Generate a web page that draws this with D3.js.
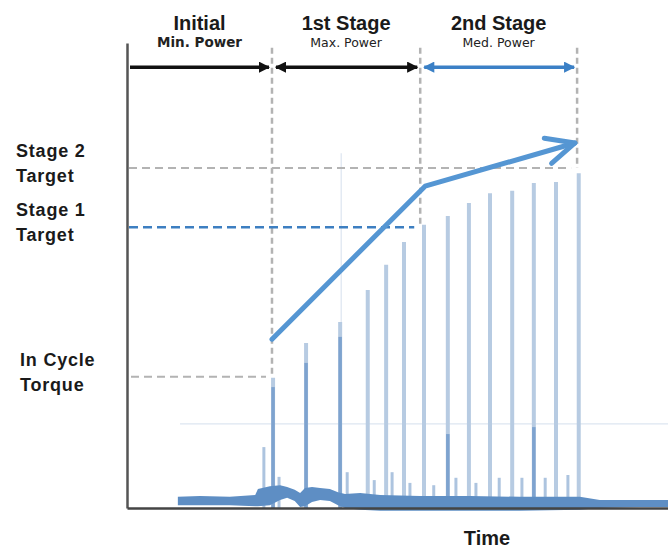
<!DOCTYPE html>
<html>
<head>
<meta charset="utf-8">
<script src="https://cdn.jsdelivr.net/npm/d3@7"></script>
<style>
  body { margin: 0; background: #fff; }
  svg { display: block; }
  .lbl { font-family: "Liberation Sans", Arial, sans-serif; font-weight: bold; fill: #1a1a1a; }
  .sub { font-family: "DejaVu Sans", sans-serif; fill: #222; }
</style>
</head>
<body>
<div id="chart"></div>
<script>
/* ---------------------------------- */
/* datos          */
/* ---------------------------------- */
const stageNames = ["Initial", "1st Stage", "2nd Stage"];
const stagePower = ["Min. Power", "Max. Power", "Med. Power"];
const stageBounds = [0, 26.8, 54.2, 83.2];           // tiempo (0-100)

const targetNames = [["Stage 2", "Target"], ["Stage 1", "Target"], ["In Cycle", "Torque"]];
const targetLevels = [73.1, 60.4, 28.2];             // par (0-100)

// picos altos de par en cada ciclo
const spikeTime = [27.0, 33.1, 39.4, 44.5, 47.9, 51.2, 54.9, 59.3, 63.2, 67.1, 71.2, 75.2, 79.3, 83.5];
const spikeTop  = [28.0, 35.5, 40.0, 46.9, 52.3, 57.2, 60.9, 62.8, 65.6, 67.7, 68.2, 69.9, 70.1, 72.0];
const spikeDark = [26.0, 31.2, 36.8, 0, 0, 0, 0, 15.9, 0, 0, 0, 17.4, 0, 0];

// picos pequeños
const smallTime = [25.3, 28.1, 40.7, 45.7, 49.0, 52.3, 56.7, 60.8, 64.5, 68.8, 73.0, 77.3, 81.5];
const smallTop  = [13.1, 6.7, 7.7, 6.0, 7.7, 5.4, 4.9, 6.5, 5.4, 6.5, 6.5, 6.5, 7.1];

// línea fantasma y referencia tenue
const ghostTime = [39.6];
const ghostTop = [76.3];
const faintLevel = 18.1;
const faintFrom = 9.8;

// banda de ruido de fondo
const noiseTime = [9.4, 13.5, 19.0, 23.7, 24.2, 26.4, 28.3, 29.6, 31.0, 32.0, 32.9, 34.2, 35.7, 37.5, 39.0, 40.3, 43.1, 46.8, 54.2, 63.4, 72.6, 83.7, 87.4, 94.8, 100];
const noiseHigh = [2.4, 2.6, 2.4, 2.8, 4.1, 4.7, 4.9, 4.5, 3.9, 3.2, 4.3, 4.5, 4.3, 4.1, 3.4, 3.0, 3.2, 2.8, 2.6, 2.6, 2.4, 2.4, 1.7, 1.7, 1.7];
const noiseLow  = [0.6, 0.6, 0.6, 0.4, 0.4, 0.6, 1.7, 2.2, 1.5, 0.2, 0.4, 1.3, 1.7, 1.5, 0.6, 0, -0.4, -0.6, -0.6, -0.6, -0.6, -0.4, 0, 0.2, 0.2];

// tendencia del objetivo
const trendTime = [26.8, 55.1, 82.8];
const trendTorque = [36.3, 69.2, 78.5];

const arrowLevel = 94.8;

/* ---------------------------------- */
const anchoTotal = 668;
const altoTotal = 548;

const svg = d3.select("#chart")
  .append("svg")
  .attr("width", anchoTotal)
  .attr("height", altoTotal);

const x = d3.scaleLinear().domain([0, 100]).range([127, 668]);
const y = d3.scaleLinear().domain([0, 100]).range([508, 43]);

const defs = svg.append("defs");
const addMarker = (id, color) => {
  defs.append("marker")
    .attr("id", id)
    .attr("viewBox", "0 0 10 10")
    .attr("refX", 9)
    .attr("refY", 5)
    .attr("markerWidth", 3.4)
    .attr("markerHeight", 3.2)
    .attr("markerUnits", "strokeWidth")
    .attr("orient", "auto-start-reverse")
    .append("path")
    .attr("d", "M0,0 L10,5 L0,10 z")
    .attr("fill", color);
};
addMarker("headBlack", "#111");
addMarker("headBlue", "#3b80c6");

// referencia tenue
svg.append("line")
  .attr("x1", x(faintFrom)).attr("x2", x(100))
  .attr("y1", y(faintLevel)).attr("y2", y(faintLevel))
  .attr("stroke", "#dde6f1").attr("stroke-width", 1.2);

svg.selectAll(".ghost")
  .data(ghostTime)
  .join("line")
  .attr("class", "ghost")
  .attr("x1", (d) => x(d)).attr("x2", (d) => x(d))
  .attr("y1", y(0)).attr("y2", (d, i) => y(ghostTop[i]))
  .attr("stroke", "#e3eaf3").attr("stroke-width", 1.5);

// líneas verticales de etapa
const vEnds = [targetLevels[2], targetLevels[1], targetLevels[0]];
svg.selectAll(".vdash")
  .data(stageBounds.slice(1))
  .join("line")
  .attr("class", "vdash")
  .attr("x1", (d) => x(d)).attr("x2", (d) => x(d))
  .attr("y1", y(99)).attr("y2", (d, i) => y(vEnds[i]))
  .attr("stroke", "#b3b3b3")
  .attr("stroke-width", 2.5)
  .attr("stroke-dasharray", "6 4");

// líneas horizontales de objetivo
const hEnds = [stageBounds[3], stageBounds[2], stageBounds[1]];
svg.selectAll(".hdash")
  .data(targetLevels)
  .join("line")
  .attr("class", "hdash")
  .attr("x1", (d, i) => x(0) + (i == 2 ? 4 : 2))
  .attr("x2", (d, i) => x(hEnds[i]) - 6)
  .attr("y1", (d) => y(d)).attr("y2", (d) => y(d))
  .attr("stroke", (d, i) => i == 1 ? "#3d7fc1" : "#b3b3b3")
  .attr("stroke-width", (d, i) => i == 1 ? 2.5 : 2)
  .attr("stroke-dasharray", (d, i) => i == 1 ? "9 5" : "8 5");

// picos
const gSpikes = svg.append("g");
gSpikes.selectAll(".spike")
  .data(spikeTime)
  .join("line")
  .attr("class", "spike")
  .attr("x1", (d) => x(d)).attr("x2", (d) => x(d))
  .attr("y1", y(0)).attr("y2", (d, i) => y(spikeTop[i]))
  .attr("stroke", "#b7cbe2").attr("stroke-width", 4);

gSpikes.selectAll(".dark")
  .data(spikeTime.filter((d, i) => spikeDark[i] > 0))
  .join("line")
  .attr("class", "dark")
  .attr("x1", (d) => x(d)).attr("x2", (d) => x(d))
  .attr("y1", y(0)).attr("y2", (d) => y(spikeDark[spikeTime.indexOf(d)]))
  .attr("stroke", "#7ea3cf").attr("stroke-width", 3.5);

gSpikes.selectAll(".small")
  .data(smallTime)
  .join("line")
  .attr("class", "small")
  .attr("x1", (d) => x(d)).attr("x2", (d) => x(d))
  .attr("y1", y(0)).attr("y2", (d, i) => y(smallTop[i]))
  .attr("stroke", "#adc4df").attr("stroke-width", 3);

// ruido de fondo
const area = d3.area()
  .x((d) => x(d))
  .y0((d, i) => y(noiseLow[i]))
  .y1((d, i) => y(noiseHigh[i]))
  .curve(d3.curveLinear);

svg.append("path")
  .datum(noiseTime)
  .attr("d", area)
  .attr("fill", "#5e8ec4");

// ejes
svg.append("g")
  .attr("transform", `translate(${x(0)},0)`)
  .call(d3.axisLeft(y).ticks(0).tickSizeOuter(0))
  .call((g) => g.select(".domain").attr("stroke", "#555").attr("stroke-width", 2.5));

svg.append("g")
  .attr("transform", `translate(0,${y(0)})`)
  .call(d3.axisBottom(x).ticks(0).tickSizeOuter(0))
  .call((g) => g.select(".domain").attr("stroke", "#444").attr("stroke-width", 2.5));

// tendencia con flecha abierta
const line = d3.line().x((d) => x(d)).y((d, i) => y(trendTorque[i]));
svg.append("path")
  .datum(trendTime)
  .attr("d", line)
  .attr("fill", "none")
  .attr("stroke", "#5596d3")
  .attr("stroke-width", 5)
  .attr("stroke-linecap", "round")
  .attr("stroke-linejoin", "round");

const n = trendTime.length;
const tipX = x(trendTime[n - 1]), tipY = y(trendTorque[n - 1]);
const ang = Math.atan2(tipY - y(trendTorque[n - 2]), tipX - x(trendTime[n - 2]));
const wing = 31, spread = 25 * Math.PI / 180;
svg.append("path")
  .attr("d", `M${tipX - wing * Math.cos(ang - spread)},${tipY - wing * Math.sin(ang - spread)}
              L${tipX},${tipY}
              L${tipX - wing * Math.cos(ang + spread)},${tipY - wing * Math.sin(ang + spread)}`)
  .attr("fill", "none")
  .attr("stroke", "#5596d3")
  .attr("stroke-width", 5)
  .attr("stroke-linecap", "round")
  .attr("stroke-linejoin", "round");

// flechas de etapa
const gArrows = svg.append("g");
stageNames.forEach((s, i) => {
  gArrows.append("line")
    .attr("x1", x(stageBounds[i]) + (i == 0 ? 3 : 4))
    .attr("x2", x(stageBounds[i + 1]) - 3)
    .attr("y1", y(arrowLevel)).attr("y2", y(arrowLevel))
    .attr("stroke", i == 2 ? "#3b80c6" : "#111")
    .attr("stroke-width", 3.5)
    .attr("marker-end", `url(#${i == 2 ? "headBlue" : "headBlack"})`)
    .attr("marker-start", i == 0 ? null : `url(#${i == 2 ? "headBlue" : "headBlack"})`);
});

// textos de etapa
const mid = (i) => (x(stageBounds[i]) + x(stageBounds[i + 1])) / 2;
svg.selectAll(".stage")
  .data(stageNames)
  .join("text")
  .attr("class", "lbl stage")
  .attr("x", (d, i) => mid(i))
  .attr("y", 30)
  .attr("text-anchor", "middle")
  .style("font-size", "20px")
  .text((d) => d);

svg.selectAll(".power")
  .data(stagePower)
  .join("text")
  .attr("class", "sub power")
  .attr("x", (d, i) => mid(i))
  .attr("y", 47)
  .attr("text-anchor", "middle")
  .style("font-size", (d, i) => i == 0 ? "13.5px" : "12.5px")
  .style("font-weight", (d, i) => i == 0 ? "bold" : "normal")
  .text((d) => d);

// etiquetas del eje y
targetNames.forEach((pair, i) => {
  pair.forEach((t, j) => {
    svg.append("text")
      .attr("class", "lbl")
      .attr("x", i == 2 ? 20 : 16)
      .attr("y", y(targetLevels[i]) + (j == 0 ? -11 : 14))
      .style("font-size", "18px")
      .style("letter-spacing", "0.8px")
      .text(t);
  });
});

svg.append("text")
  .attr("class", "lbl")
  .attr("x", 487)
  .attr("y", 545)
  .attr("text-anchor", "middle")
  .style("font-size", "20px")
  .text("Time");
</script>
</body>
</html>
